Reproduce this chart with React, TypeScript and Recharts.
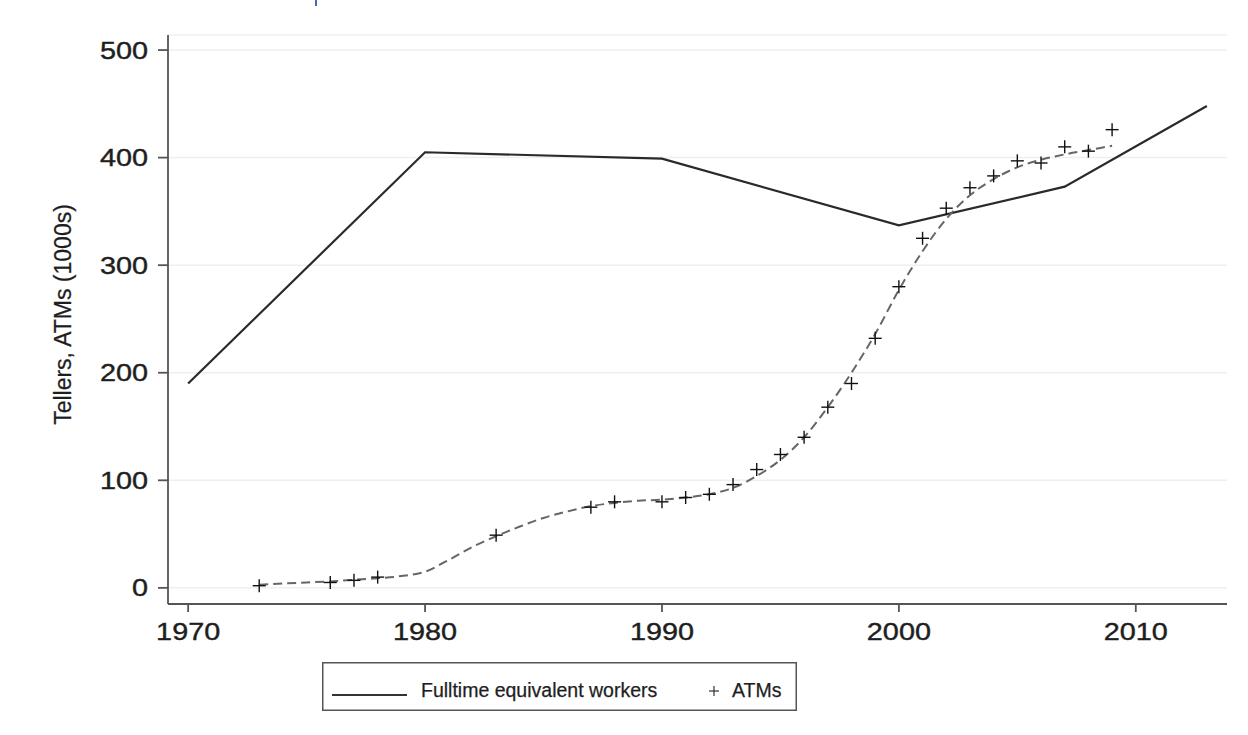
import {
  ComposedChart,
  Line,
  Scatter,
  XAxis,
  YAxis,
  CartesianGrid,
  Legend,
} from "recharts";

// Tellers (fulltime equivalent workers), in 1000s
const tellerYears = [1970, 1980, 1990, 2000, 2007, 2013];
const tellerValues = [190, 405, 399, 337, 373, 448];

// ATMs observed, in 1000s
const atmYears = [
  1973, 1976, 1977, 1978, 1983, 1987, 1988, 1990, 1991, 1992, 1993, 1994,
  1995, 1996, 1997, 1998, 1999, 2000, 2001, 2002, 2003, 2004, 2005, 2006,
  2007, 2008, 2009,
];
const atmValues = [
  2, 5, 7, 10, 49, 75, 80, 80, 84, 87, 96, 110, 124, 140, 168, 190, 232, 280,
  325, 353, 372, 383, 397, 395, 410, 406, 426,
];

// smoothed ATM trend (dashed)
const fitYears = [
  1973, 1974, 1975, 1976, 1977, 1978, 1979, 1980, 1981, 1982, 1983, 1984,
  1985, 1986, 1987, 1988, 1989, 1990, 1991, 1992, 1993, 1994, 1995, 1996,
  1997, 1998, 1999, 2000, 2001, 2002, 2003, 2004, 2005, 2006, 2007, 2008,
  2009,
];
const fitValues = [
  3, 4, 5, 6, 7.5, 9, 11, 15, 26, 38, 48, 57, 65, 71, 76, 79, 81, 82, 84, 87,
  93, 104, 119, 140, 168, 200, 236, 277, 313, 343, 365, 380, 391, 398, 403,
  407, 411,
];

const xTicks = [1970, 1980, 1990, 2000, 2010];
const yTicks = [0, 100, 200, 300, 400, 500];

const FONT = "'Liberation Sans', Arial, Helvetica, sans-serif";

const tellerData = tellerYears.map((year, i) => ({ year, value: tellerValues[i] }));
const atmData = atmYears.map((year, i) => ({ year, value: atmValues[i] }));
const fitData = fitYears.map((year, i) => ({ year, value: fitValues[i] }));

const XTick = ({ x, y, payload }: any) => (
  <g transform={`translate(${x},${y + 1})`}>
    <text
      textAnchor="middle"
      dy="0.71em"
      transform="scale(1.2,1)"
      fontSize={24}
      fontFamily={FONT}
      fill="#1e1e1e"
      stroke="#1e1e1e"
      strokeWidth={0.4}
    >
      {payload.value}
    </text>
  </g>
);

const YTick = ({ x, y, payload }: any) => (
  <g transform={`translate(${x},${y})`}>
    <text
      textAnchor="end"
      dy="0.355em"
      transform="scale(1.2,1)"
      fontSize={24}
      fontFamily={FONT}
      fill="#1e1e1e"
      stroke="#1e1e1e"
      strokeWidth={0.4}
    >
      {payload.value}
    </text>
  </g>
);

const YLabel = ({ viewBox }: any) => {
  const cx = viewBox.x + 63;
  const cy = viewBox.y + viewBox.height / 2 - 5;
  return (
    <text
      x={cx}
      y={cy}
      transform={`rotate(-90, ${cx}, ${cy})`}
      textAnchor="middle"
      dy="0.355em"
      fontSize={23}
      fontFamily={FONT}
      fill="#1e1e1e"
      stroke="#1e1e1e"
      strokeWidth={0.25}
    >
      Tellers, ATMs (1000s)
    </text>
  );
};

const PlusShape = ({ cx, cy }: any) => (
  <g>
    <line x1={cx - 6.5} x2={cx + 6.5} y1={cy} y2={cy} stroke="#111" strokeWidth={1.4} />
    <line x1={cx} x2={cx} y1={cy - 6.5} y2={cy + 6.5} stroke="#111" strokeWidth={1.4} />
  </g>
);

const LegendBox = () => (
  <svg width={475} height={49} style={{ display: "block" }}>
    <rect x={0.75} y={0.75} width={473.5} height={47.5} fill="#fff" stroke="#555" strokeWidth={1.5} />
    <line x1={10} x2={85} y1={33} y2={33} stroke="#333" strokeWidth={2} />
    <text x={99} y={35} fontSize={19.5} fontFamily={FONT} fill="#1e1e1e" stroke="#1e1e1e" strokeWidth={0.25}>
      Fulltime equivalent workers
    </text>
    <line x1={387} x2={397} y1={29} y2={29} stroke="#333" strokeWidth={1.2} />
    <line x1={392} x2={392} y1={24} y2={34} stroke="#333" strokeWidth={1.2} />
    <text x={410} y={35} fontSize={19.5} fontFamily={FONT} fill="#1e1e1e" stroke="#1e1e1e" strokeWidth={0.25}>
      ATMs
    </text>
  </svg>
);

export default function App() {
  return (
    <div style={{ position: "absolute", left: 0, top: 0, width: 1248, height: 735, background: "#fff" }}>
      <div style={{ position: "absolute", left: 315, top: 0, width: 2, height: 6, background: "#3a6fb0" }} />
      <ComposedChart
        width={1248}
        height={735}
        margin={{ top: 35, right: 21, left: 0, bottom: 91 }}
      >
        <CartesianGrid horizontal vertical={false} stroke="#efefef" strokeWidth={1.5} />
        <XAxis
          type="number"
          dataKey="year"
          domain={[1969.15, 2013.85]}
          allowDataOverflow
          ticks={xTicks}
          height={40}
          tickSize={8}
          tickMargin={10}
          stroke="#555"
          strokeWidth={1.8}
          tick={<XTick />}
        />
        <YAxis
          type="number"
          dataKey="value"
          domain={[-15, 514]}
          allowDataOverflow
          ticks={yTicks}
          width={168}
          tickSize={10}
          tickMargin={10}
          stroke="#555"
          strokeWidth={1.8}
          tick={<YTick />}
          label={<YLabel />}
        />
        <Legend
          layout="horizontal"
          verticalAlign="middle"
          align="center"
          width={475}
          height={49}
          wrapperStyle={{ left: 322, top: 662, width: 475, height: 49 }}
          content={() => <LegendBox />}
        />
        <Line
          data={tellerData}
          dataKey="value"
          name="Fulltime equivalent workers"
          type="linear"
          stroke="#2a2a2a"
          strokeWidth={2.2}
          dot={false}
          activeDot={false}
          isAnimationActive={false}
        />
        <Line
          data={fitData}
          dataKey="value"
          name="ATM trend"
          type="monotone"
          stroke="#666"
          strokeWidth={2}
          strokeDasharray="9 5"
          dot={false}
          activeDot={false}
          legendType="none"
          isAnimationActive={false}
        />
        <Scatter
          data={atmData}
          dataKey="value"
          name="ATMs"
          shape={<PlusShape />}
          isAnimationActive={false}
        />
      </ComposedChart>
    </div>
  );
}
